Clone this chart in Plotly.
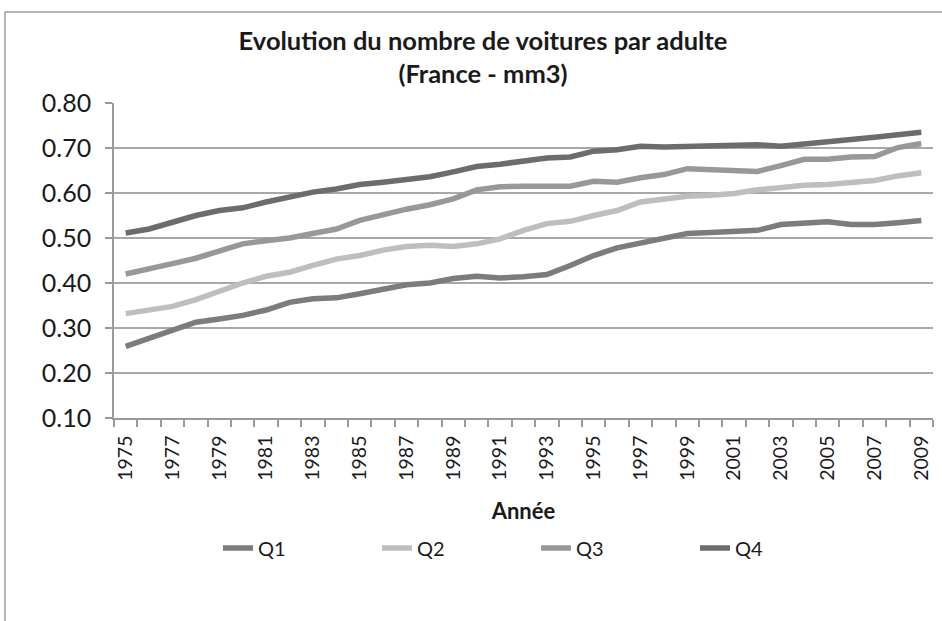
import plotly.graph_objects as go

years = list(range(1975, 2010))
q1 = [0.259, 0.278, 0.297, 0.313, 0.320, 0.328, 0.340, 0.357, 0.365,
      0.367, 0.376, 0.385, 0.396, 0.400, 0.410, 0.415, 0.411,
      0.414, 0.419, 0.439, 0.461, 0.478, 0.489, 0.499, 0.510,
      0.512, 0.513, 0.517, 0.530, 0.534, 0.536, 0.530, 0.530, 0.534, 0.539]
q2 = [0.332, 0.339, 0.348, 0.363, 0.383, 0.400, 0.415, 0.424, 0.439,
      0.453, 0.461, 0.473, 0.481, 0.484, 0.481, 0.487, 0.498,
      0.517, 0.532, 0.537, 0.550, 0.561, 0.580, 0.587, 0.593,
      0.595, 0.599, 0.607, 0.613, 0.617, 0.619, 0.622, 0.628, 0.638, 0.645]
q3 = [0.420, 0.433, 0.443, 0.455, 0.472, 0.487, 0.494, 0.500, 0.510,
      0.520, 0.539, 0.553, 0.564, 0.574, 0.587, 0.607, 0.614,
      0.615, 0.615, 0.615, 0.626, 0.624, 0.634, 0.641, 0.654,
      0.652, 0.647, 0.648, 0.661, 0.675, 0.675, 0.680, 0.681, 0.701, 0.710]
q4 = [0.511, 0.520, 0.535, 0.550, 0.561, 0.567, 0.580, 0.592, 0.602,
      0.609, 0.619, 0.624, 0.629, 0.636, 0.647, 0.659, 0.664,
      0.671, 0.678, 0.680, 0.693, 0.696, 0.704, 0.702, 0.704,
      0.706, 0.706, 0.707, 0.704, 0.708, 0.712, 0.719, 0.724, 0.730, 0.735]

series = [("Q1", q1, "#7c7c80"), ("Q2", q2, "#bebec1"),
          ("Q3", q3, "#98989b"), ("Q4", q4, "#6c6c70")]

label_years = years[::2]

FONT = "Lato"
W, H = 942, 621
L, R, T, B = 114, 9, 103, 203
pw, ph = W - L - R, H - T - B

fig = go.Figure()
for name, vals, col in series:
    fig.add_trace(go.Scatter(x=years, y=vals, name=name, mode="lines",
                             line=dict(color=col, width=5.5)))

def px_to_paper_x(px):
    return (px - L) / pw

def px_to_paper_y(py):
    return (H - B - py) / ph

fig.update_layout(
    width=W, height=H,
    margin=dict(l=L, r=R, t=T, b=B, autoexpand=False),
    paper_bgcolor="white", plot_bgcolor="white",
    font=dict(family=FONT, color="#1a1a1a"),
    showlegend=True,
    title=dict(text="<b>Evolution du nombre de voitures par adulte<br>(France - mm3)</b>",
               x=px_to_paper_x(483), xanchor="center", xref="paper",
               y=(H - 50) / H, yanchor="middle",
               font=dict(size=25.5, family=FONT, color="#1a1a1a")),
    legend=dict(orientation="h", x=px_to_paper_x(218), xanchor="left",
                y=px_to_paper_y(548), yanchor="middle",
                entrywidth=114, entrywidthmode="pixels",
                font=dict(size=20, family=FONT, color="#1a1a1a"),
                bgcolor="rgba(0,0,0,0)"),
    xaxis=dict(range=[1974.5, 2009.5], tickmode="array",
               tickvals=label_years, ticktext=[str(y) for y in label_years],
               tickangle=-90, ticks="", showgrid=False, zeroline=False,
               showline=True, linecolor="#9a9a9a", linewidth=1.5,
               ticklabelstandoff=8,
               tickfont=dict(size=19.5, family=FONT, color="#1a1a1a"),
               minor=dict(ticks="outside", tickmode="linear", tick0=1974.5, dtick=1,
                          ticklen=7, tickcolor="#9a9a9a", tickwidth=1.5, showgrid=False),
               title=dict(text="<b>Année</b>", standoff=24,
                          font=dict(size=22, family=FONT, color="#1a1a1a"))),
    yaxis=dict(range=[0.10, 0.80], tickmode="linear", tick0=0.10, dtick=0.10,
               tickformat=".2f", ticks="outside", ticklen=7, tickcolor="#9a9a9a",
               tickwidth=1.5, showgrid=True, gridcolor="#a8a8a8", gridwidth=1.5,
               showline=True, linecolor="#9a9a9a", linewidth=1.5, zeroline=False,
               ticklabelstandoff=9,
               tickfont=dict(size=25, family=FONT, color="#1a1a1a")),
)

# chart frame border
fig.add_shape(type="rect", xref="paper", yref="paper",
              x0=px_to_paper_x(5), x1=px_to_paper_x(960),
              y0=px_to_paper_y(640), y1=px_to_paper_y(12),
              line=dict(color="#a0a0a0", width=1.5), layer="below")

fig.write_html("out.html", config={"displayModeBar": False},
               post_script="document.body.style.margin='0';")
